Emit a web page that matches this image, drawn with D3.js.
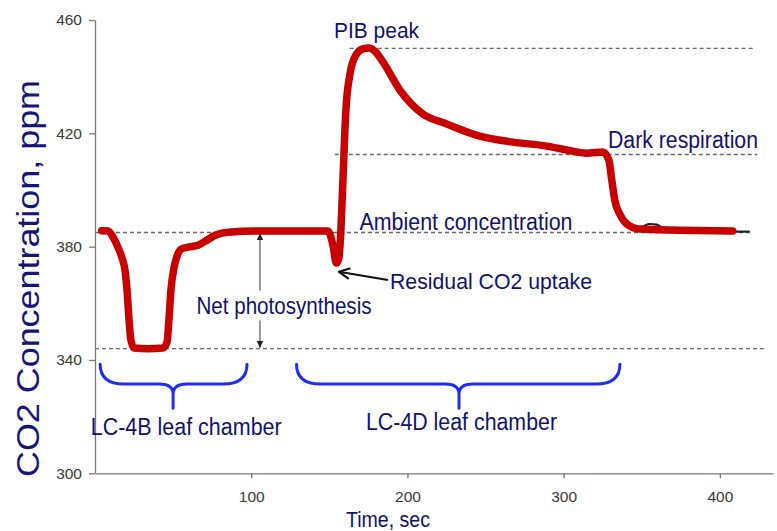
<!DOCTYPE html>
<html>
<head>
<meta charset="utf-8">
<script src="https://cdn.jsdelivr.net/npm/d3@7"></script>
<style>
  html, body { margin: 0; padding: 0; background: #fff; }
  svg { display: block; }
  text { font-family: "Liberation Sans", Arial, sans-serif; }
</style>
</head>
<body>
<svg id="chart" width="777" height="531"></svg>
<script>
// CO2 trace recorded by the analyser (time in s, concentration in ppm)
const traceTime = [4.3, 8.3, 11.5, 14.7, 17.3, 19.2, 20.5, 21.8, 23, 25, 33.9, 43.5,
  46.1, 47.3, 48.6, 50.5, 52.5, 55, 59.5, 65.9, 71.7, 77.4, 85.1, 105.6, 149.1,
  152.3, 154.5, 156.1, 157.4, 158.7, 160.6, 163.1, 167, 171.5, 175.3, 179.1, 184.3,
  195.1, 209.9, 225.2, 246.3, 267.4, 289.2, 302, 314.8, 325, 328.9, 330.8, 332.7,
  335.9, 340.4, 348.7, 374.3, 408.2];
const tracePpm = [385.6, 385.5, 383.4, 379.8, 376, 371.7, 364.6, 354, 347, 344.2, 344, 344.2,
  346.3, 354, 364.6, 372.4, 376.6, 379.1, 379.8, 380.5, 382.3, 384.1, 385.1, 385.5, 385.5,
  380.5, 374.2, 375.9, 385.8, 403.5, 428.2, 440.6, 447.6, 449.8, 450.1, 449, 445.2,
  435.3, 426.8, 423.3, 419, 416.9, 415.5, 414.1, 413, 413.4, 410.6, 403.5, 396.4,
  391.5, 388, 386.2, 385.8, 385.5];

// baseline trace of the empty chamber after the measurement
const baseTime = [348.7, 355.1, 359.6, 364.7, 374.3, 382.6, 393.5, 419.1];
const basePpm = [386.3, 388, 387.8, 386.3, 386.2, 386.4, 385.6, 385.3];

// reference levels (ppm) and the time span of each dashed guide
const levelNames = ["PIB peak", "Dark respiration", "Ambient concentration", "Net photosynthesis"];
const levelPpm = [450, 412.5, 385, 344];
const levelFrom = [163, 153.5, 0, 0];
const levelTo = [422, 424, 419, 430];

// leaf chamber phases
const chamberNames = ["LC-4B leaf chamber", "LC-4D leaf chamber"];
const chamberStart = [3.3, 129];
const chamberEnd = [97.3, 336];
const chamberMid = [50, 233];

// axis ticks
const xTicks = [100, 200, 300, 400];
const yTicks = [300, 340, 380, 420, 460];

const svg = d3.select("#chart");
const navy = "#12126e";

const x = d3.scaleLinear().domain([0, 434]).range([95, 773]);
const y = d3.scaleLinear().domain([300, 460]).range([473.3, 20]);

// axes
const xAxis = svg.append("g")
  .attr("transform", `translate(0,${y(300)})`)
  .call(d3.axisBottom(x).tickValues(xTicks).tickSize(5).tickSizeOuter(0).tickPadding(13));
const yAxis = svg.append("g")
  .attr("transform", `translate(${x(0)},0)`)
  .call(d3.axisLeft(y).tickValues(yTicks).tickSize(6).tickSizeOuter(0).tickPadding(7));
[xAxis, yAxis].forEach(g => {
  g.selectAll("path, line").attr("stroke", "#7a7a7a").attr("stroke-width", 1.3);
  g.selectAll("text").attr("fill", "#3a3a3a").attr("font-size", 15.5)
    .attr("font-family", "'Liberation Sans', Arial, sans-serif");
});

// dashed reference levels
svg.append("g").selectAll("line").data(levelPpm).join("line")
  .attr("x1", (d, i) => x(levelFrom[i]))
  .attr("x2", (d, i) => x(levelTo[i]))
  .attr("y1", d => y(d)).attr("y2", d => y(d))
  .attr("stroke", "#6a6a6a").attr("stroke-width", 1.4)
  .attr("stroke-dasharray", "4,3");

// markers
const defs = svg.append("defs");
defs.append("marker").attr("id", "tri").attr("viewBox", "0 0 10 10")
  .attr("refX", 10).attr("refY", 5).attr("markerWidth", 7).attr("markerHeight", 7)
  .attr("markerUnits", "userSpaceOnUse").attr("orient", "auto-start-reverse")
  .append("path").attr("d", "M0,0 L10,5 L0,10 z").attr("fill", "#222");
defs.append("marker").attr("id", "open").attr("viewBox", "0 0 12 12")
  .attr("refX", 11).attr("refY", 6).attr("markerWidth", 13).attr("markerHeight", 13)
  .attr("markerUnits", "userSpaceOnUse").attr("orient", "auto")
  .append("path").attr("d", "M1,1 L11,6 L1,11").attr("fill", "none")
  .attr("stroke", "#111").attr("stroke-width", 2);

// net photosynthesis span: ambient level down to the photosynthesis minimum
const npT = 105.6;
svg.append("line")
  .attr("x1", x(npT)).attr("x2", x(npT))
  .attr("y1", y(levelPpm[3]) - 1).attr("y2", y(levelPpm[2]) + 1)
  .attr("stroke", "#333").attr("stroke-width", 1)
  .attr("marker-start", "url(#tri)").attr("marker-end", "url(#tri)");

// baseline trace then the measured trace on top
const lineGen = d3.line().x(d => x(d[0])).y(d => y(d[1])).curve(d3.curveMonotoneX);
svg.append("path")
  .attr("d", lineGen(d3.zip(baseTime, basePpm)))
  .attr("fill", "none").attr("stroke", "#222").attr("stroke-width", 2.2);
svg.append("path")
  .attr("d", lineGen(d3.zip(traceTime, tracePpm)))
  .attr("fill", "none").attr("stroke", "#c80000").attr("stroke-width", 7.5)
  .attr("stroke-linejoin", "round").attr("stroke-linecap", "round");

// residual uptake arrow pointing at the dip
svg.append("line")
  .attr("x1", 388).attr("y1", 280)
  .attr("x2", x(155.5) + 1).attr("y2", y(371.5) + 1)
  .attr("stroke", "#111").attr("stroke-width", 2.2)
  .attr("marker-end", "url(#open)");

// chamber braces
const braceTop = y(338.5), braceMid = y(331.5), braceTip = y(323);
svg.append("g").selectAll("path").data(chamberNames).join("path")
  .attr("d", (d, i) => {
    const x1 = x(chamberStart[i]), x2 = x(chamberEnd[i]), xm = x(chamberMid[i]);
    return `M${x1},${braceTop} Q${x1},${braceMid} ${x1 + 24},${braceMid}` +
      ` L${xm - 14},${braceMid} Q${xm},${braceMid} ${xm},${braceMid + 10} L${xm},${braceTip}` +
      ` M${xm},${braceMid + 10} Q${xm},${braceMid} ${xm + 14},${braceMid}` +
      ` L${x2 - 24},${braceMid} Q${x2},${braceMid} ${x2},${braceTop}`;
  })
  .attr("fill", "none").attr("stroke", "#1e2ef0").attr("stroke-width", 3)
  .attr("stroke-linecap", "round");

// annotation labels
const labels = [
  { t: "PIB peak", x: 334, y: 37.5, s: 22, w: 85 },
  { t: "Dark respiration", x: 608, y: 148, s: 23, w: 150 },
  { t: "Ambient concentration", x: 359.5, y: 229.5, s: 23, w: 213 },
  { t: "Residual CO2 uptake", x: 390, y: 289, s: 22.5, w: 202 },
  { t: "Net photosynthesis", x: 196.5, y: 314, s: 24, w: 175, bg: true },
  { t: "LC-4B leaf chamber", x: 90.7, y: 435, s: 23, w: 191 },
  { t: "LC-4D leaf chamber", x: 366, y: 430, s: 23, w: 191 },
  { t: "Time, sec", x: 346, y: 526.5, s: 22, w: 84 }
];
labels.filter(d => d.bg).forEach(d => {
  svg.append("rect").attr("x", d.x - 2).attr("y", d.y - d.s * 0.98)
    .attr("width", d.w + 4).attr("height", d.s * 1.25).attr("fill", "#fff");
});
svg.append("g").selectAll("text").data(labels).join("text")
  .attr("x", d => d.x).attr("y", d => d.y)
  .attr("font-size", d => d.s)
  .attr("textLength", d => d.w).attr("lengthAdjust", "spacingAndGlyphs")
  .attr("fill", navy).text(d => d.t);

// y axis title
svg.append("text")
  .attr("transform", "translate(38.5,278.5) scale(0.86,1) rotate(-90)")
  .attr("text-anchor", "middle").attr("font-size", 36)
  .attr("textLength", 397).attr("lengthAdjust", "spacingAndGlyphs")
  .attr("fill", "#15157a").text("CO2 Concentration, ppm");
</script>
</body>
</html>
